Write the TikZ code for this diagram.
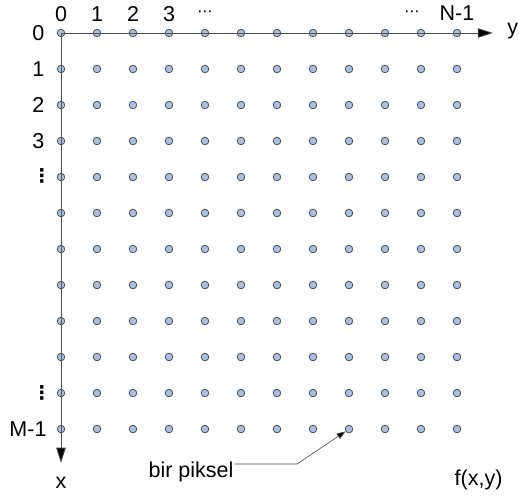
\documentclass[tikz,border=0pt]{standalone}
\usepackage{fontspec}
\setmainfont{Liberation Sans}
\newfontfamily\dejavu{DejaVu Sans}
\usetikzlibrary{arrows.meta}
\definecolor{pixfill}{HTML}{A9C0E0}
\definecolor{axisgray}{HTML}{505050}
\tikzset{
  pixel/.style={circle,draw=axisgray!90!black,fill=pixfill,inner sep=0pt,minimum size=6pt,line width=0.6pt},
  axis/.style={draw=axisgray,line width=0.6pt,-{Triangle[length=12pt,width=7.5pt,fill=black]}},
  pointer/.style={draw=axisgray,line width=0.5pt,-{Triangle[length=7pt,width=5pt,fill=black]}},
  lbl/.style={font=\fontsize{17}{20}\selectfont,inner sep=1pt},
  dotlbl/.style={font=\dejavu\fontsize{12}{14}\selectfont,inner sep=0pt},
  vdotlbl/.style={font=\dejavu\bfseries\fontsize{15}{18}\selectfont,inner sep=0pt}
}
\begin{document}
\begin{tikzpicture}
\useasboundingbox (-1.694,0.917) rectangle (12.722,-12.833);
% pixels
\foreach \i in {0,...,11}
  \foreach \j in {0,...,11}
    \node[pixel] (p-\i-\j) at (\j,-\i) {};
% axes
\coordinate (yend) at (12.0,0);
\coordinate (xend) at (0,-11.94);
\draw[axis] (p-0-0.center) -- (yend);
\draw[axis] (p-0-0.center) -- (xend);
\node[lbl] (ylab) at (12.55,0.05) {y};
\node[lbl] (xlab) at (0,-12.5) {x};
% column indices
\foreach \j in {0,...,3}
  \node[lbl] (c\j) at (\j,0.53) {\j};
\node[dotlbl] (cdots) at (4.0,0.53) {⋯};
\node[dotlbl] (cdotsb) at (9.75,0.53) {⋯};
\node[lbl] (cn) at (11,0.54) {N-1};
% row indices
\foreach \i in {0,...,3}
  \node[lbl,anchor=east] (r\i) at (-0.42,-\i) {\i};
\node[vdotlbl] (rdots) at (-0.53,-3.97) {⋮};
\node[vdotlbl] (rdotsb) at (-0.53,-10) {⋮};
\node[lbl,anchor=east] (rm) at (-0.36,-11) {M-1};
% one pixel
\node[lbl,anchor=base west] (bir) at (2.39,-12.36) {bir piksel};
\coordinate (bend) at (6.56,-11.97);
\draw[pointer] (bir.east |- bend) -- (bend) -- (p-11-8);
\node[lbl,anchor=base] (fxy) at (11.6,-12.56) {f(x,y)};
\end{tikzpicture}
\end{document}
